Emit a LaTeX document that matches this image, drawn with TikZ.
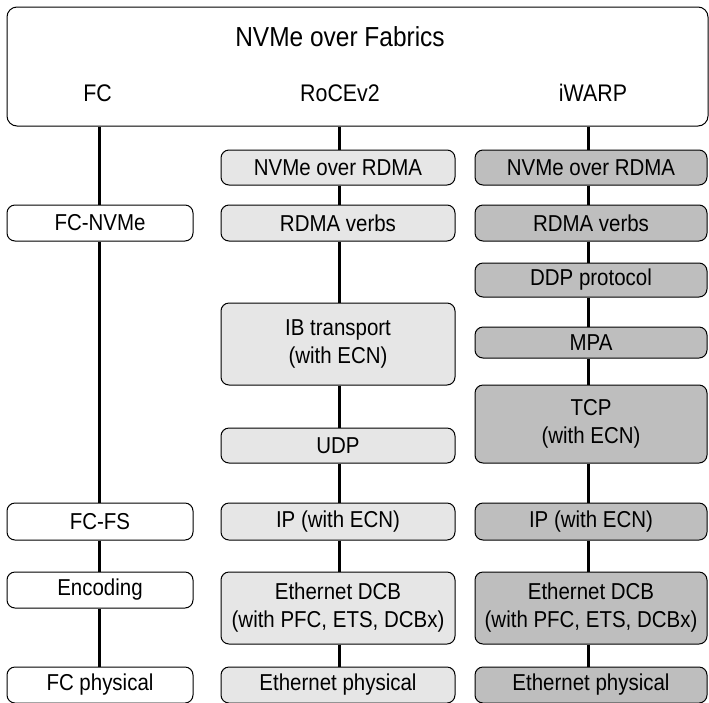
\documentclass[tikz,border=0pt]{standalone}
\usepackage{fontspec}
\setmainfont{Liberation Sans}[FakeStretch=0.89]
\definecolor{rocefill}{HTML}{E6E6E6}
\definecolor{iwfill}{HTML}{BEBEBE}
\tikzset{
  basebox/.style={draw=black, line width=1pt, rounded corners=8pt, align=center,
    inner sep=0pt, font=\fontsize{23}{28}\selectfont},
  fcbox/.style={basebox, fill=white, minimum width=186pt},
  rocebox/.style={basebox, fill=rocefill, minimum width=234pt},
  iwbox/.style={basebox, fill=iwfill, minimum width=232pt},
  topbox/.style={draw=black, line width=1pt, rounded corners=10pt, fill=white,
    minimum width=701pt, minimum height=119pt, inner sep=0pt},
  titletext/.style={inner sep=0pt, anchor=base, font=\fontsize{27.5}{30}\selectfont},
  coltext/.style={inner sep=0pt, anchor=base, font=\fontsize{24}{27}\selectfont},
  link/.style={line width=3pt},
}
\begin{document}
\begin{tikzpicture}[x=1pt, y=-1pt]
\useasboundingbox (0,0) rectangle (709,702);

% top box
\node[topbox] (top) at (357.5,66.5) {};
\node[titletext] (title) at (340,46.7) {NVMe over Fabrics};
\node[coltext] (lfc) at (97.5,101.7) {FC};
\node[coltext] (lroce) at (340,101.7) {RoCEv2};
\node[coltext] (liw) at (593,101.7) {iWARP};

% FC column
\node[fcbox, minimum height=36pt] (fc1) at (100,223) {FC-NVMe};
\node[fcbox, minimum height=37pt] (fc2) at (100,521.5) {FC-FS};
\node[fcbox, minimum height=36pt] (fc3) at (100,590) {Encoding};
\node[fcbox, minimum height=36pt] (fc4) at (100,685) {FC physical};

% RoCEv2 column
\node[rocebox, minimum height=35pt] (r1) at (338,167.5) {NVMe over RDMA};
\node[rocebox, minimum height=36pt] (r2) at (338,223) {RDMA verbs};
\node[rocebox, minimum height=82pt] (r3) at (338,344) {IB transport\\(with ECN)};
\node[rocebox, minimum height=35pt] (r4) at (338,445.5) {UDP};
\node[rocebox, minimum height=37pt] (r5) at (338,521.5) {IP (with ECN)};
\node[rocebox, minimum height=72pt] (r6) at (338,608) {Ethernet DCB\\(with PFC, ETS, DCBx)};
\node[rocebox, minimum height=36pt] (r7) at (338,685) {Ethernet physical};

% iWARP column
\node[iwbox, minimum height=35pt] (w1) at (591,167.5) {NVMe over RDMA};
\node[iwbox, minimum height=36pt] (w2) at (591,223) {RDMA verbs};
\node[iwbox, minimum height=34pt] (w3) at (591,280) {DDP protocol};
\node[iwbox, minimum height=31pt] (w4) at (591,342.5) {MPA};
\node[iwbox, minimum height=78pt] (w5) at (591,424) {TCP\\(with ECN)};
\node[iwbox, minimum height=37pt] (w6) at (591,521.5) {IP (with ECN)};
\node[iwbox, minimum height=72pt] (w7) at (591,608) {Ethernet DCB\\(with PFC, ETS, DCBx)};
\node[iwbox, minimum height=36pt] (w8) at (591,685) {Ethernet physical};

% FC links
\draw[link] ([xshift=-1pt]top.south -| fc1.north) -- ([xshift=-1pt]fc1.north);
\draw[link] ([xshift=-1pt]fc1.south) -- ([xshift=-1pt]fc2.north);
\draw[link] ([xshift=-1pt]fc2.south) -- ([xshift=-1pt]fc3.north);
\draw[link] ([xshift=-1pt]fc3.south) -- ([xshift=-1pt]fc4.north);

% RoCEv2 links
\draw[link] ([xshift=1pt]top.south -| r1.north) -- ([xshift=1pt]r1.north);
\draw[link] ([xshift=1pt]r1.south) -- ([xshift=1pt]r2.north);
\draw[link] ([xshift=1pt]r2.south) -- ([xshift=1pt]r3.north);
\draw[link] ([xshift=1pt]r3.south) -- ([xshift=1pt]r4.north);
\draw[link] ([xshift=1pt]r4.south) -- ([xshift=1pt]r5.north);
\draw[link] ([xshift=1pt]r5.south) -- ([xshift=1pt]r6.north);
\draw[link] ([xshift=1pt]r6.south) -- ([xshift=1pt]r7.north);

% iWARP links
\draw[link] ([xshift=-3pt]top.south -| w1.north) -- ([xshift=-3pt]w1.north);
\draw[link] ([xshift=-3pt]w1.south) -- ([xshift=-3pt]w2.north);
\draw[link] ([xshift=-3pt]w2.south) -- ([xshift=-3pt]w3.north);
\draw[link] ([xshift=-3pt]w3.south) -- ([xshift=-3pt]w4.north);
\draw[link] ([xshift=-3pt]w4.south) -- ([xshift=-3pt]w5.north);
\draw[link] ([xshift=-3pt]w5.south) -- ([xshift=-3pt]w6.north);
\draw[link] ([xshift=-3pt]w6.south) -- ([xshift=-3pt]w7.north);
\draw[link] ([xshift=-3pt]w7.south) -- ([xshift=-3pt]w8.north);
\end{tikzpicture}
\end{document}
